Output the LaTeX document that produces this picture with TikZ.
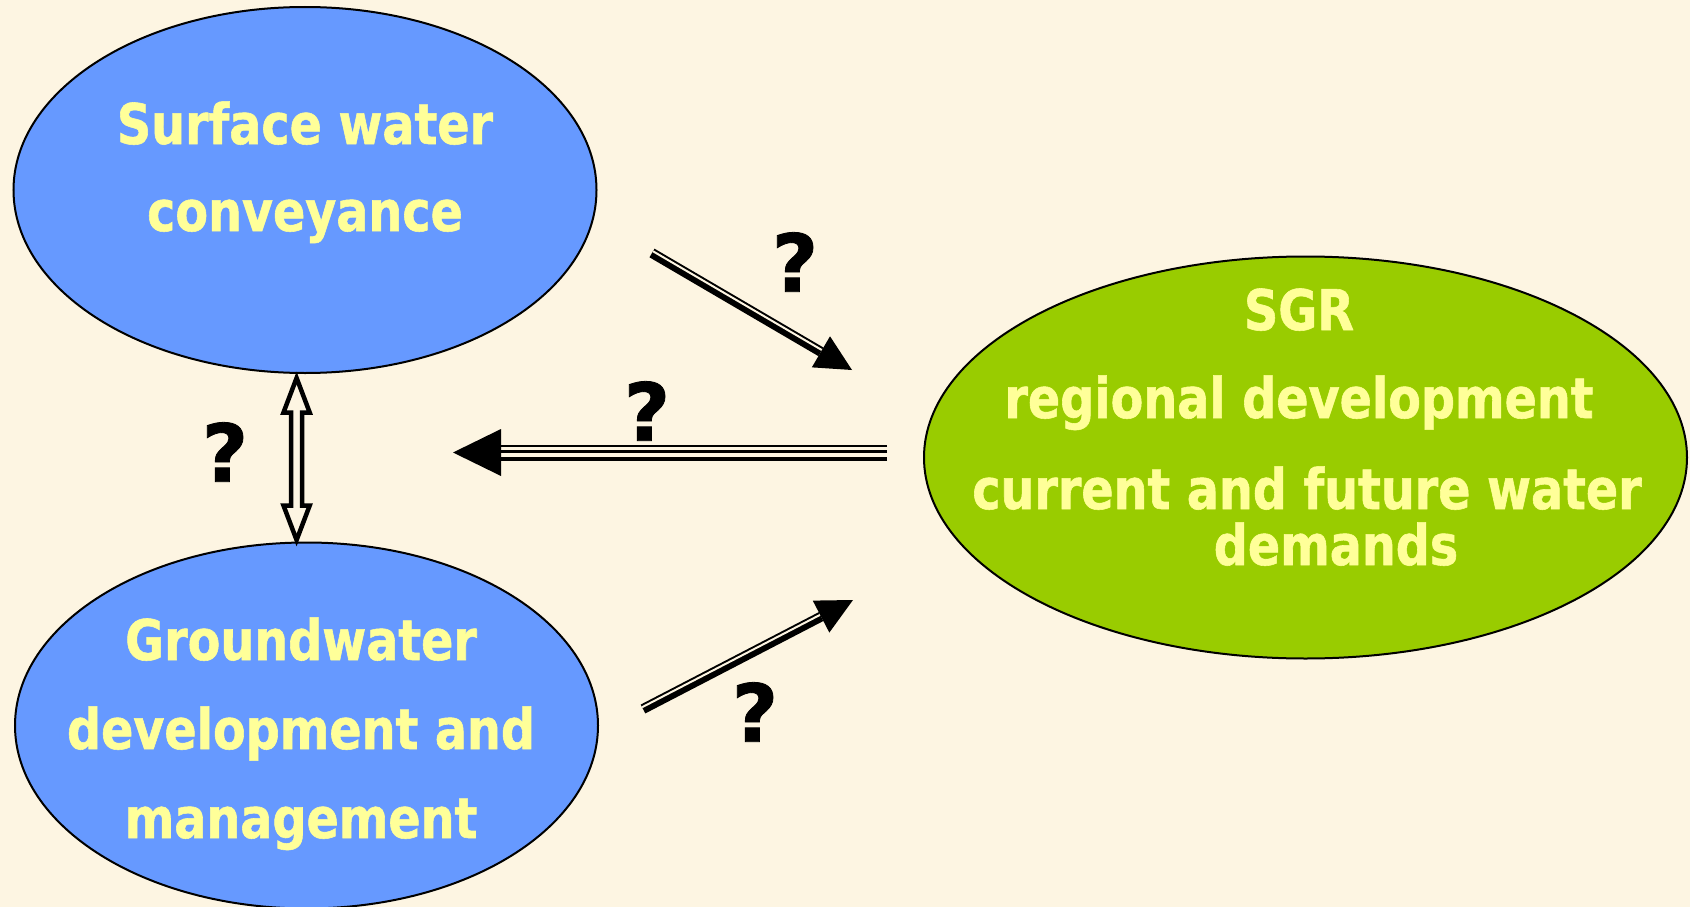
\documentclass[tikz,border=0pt]{standalone}
\usepackage{fontspec}
\usetikzlibrary{shapes.geometric,calc}
\newfontfamily\lblfont{DejaVu Sans}[FakeStretch=0.85,FakeBold=1]
\newfontfamily\qfont{DejaVu Sans}[FakeBold=1]
\definecolor{bgc}{HTML}{FDF5E2}
\definecolor{bluec}{HTML}{6699FF}
\definecolor{greenc}{HTML}{99CC00}
\definecolor{txtc}{HTML}{FFFF99}
\begin{document}
\begin{tikzpicture}[x=1pt,y=-1pt,
  blob/.style={ellipse, draw=black, line width=2pt, inner sep=0pt},
  lbl/.style={anchor=base, inner sep=0pt, text=txtc, font=\lblfont\bfseries\fontsize{56}{60}\selectfont},
  qm/.style={inner sep=0pt, text=black, font=\qfont\bfseries\fontsize{80}{84}\selectfont},
  gapline/.style={draw=bgc, line width=2pt},
  shaft/.style={draw=black, line width=10pt}]
\fill[bgc] (0,0) rectangle (1690,907);
\useasboundingbox (0,0) rectangle (1690,907);

% ellipses
\node[blob, fill=bluec, minimum width=583pt, minimum height=366pt] (sw) at (305,190) {};
\node[blob, fill=bluec, minimum width=583pt, minimum height=366pt] (gw) at (306.5,725.5) {};
\node[blob, fill=greenc, minimum width=763pt, minimum height=402pt] (sgr) at (1305.5,457.5) {};

% labels
\node[lbl] (sw1) at (305,144) {Surface water};
\node[lbl] (sw2) at (305,231) {conveyance};
\node[lbl] (gw1) at (301,660) {Groundwater};
\node[lbl] (gw2) at (301,749) {development and};
\node[lbl] (gw3) at (301,838) {management};
\node[lbl] (s1) at (1299,330) {SGR};
\node[lbl] (s2) at (1299,418) {regional development};
\node[lbl] (s3) at (1307,509) {current and future water};
\node[lbl] (s4) at (1336,565) {demands};

% question marks
\node[qm] (q1) at (795,262) {?};
\node[qm] (q2) at (647,411) {?};
\node[qm] (q3) at (225,452) {?};
\node[qm] (q4) at (755,712) {?};

% arrow 1: surface water -> SGR
\coordinate (a1t) at (652,253);
\coordinate (a1p) at (852,370);
\coordinate (a1b) at ($(a1p)!36pt!(a1t)$);
\draw[shaft] (a1t) -- (a1b);
\draw[gapline] ($(a1t)!2pt!90:(a1p)$) -- ($(a1b)!2pt!90:(a1p)$);
\fill ($(a1b)!18pt!90:(a1p)$) -- (a1p) -- ($(a1b)!18pt!-90:(a1p)$) -- cycle;

% arrow 4: groundwater -> SGR
\coordinate (a4t) at (643,709);
\coordinate (a4p) at (853,600);
\coordinate (a4b) at ($(a4p)!36pt!(a4t)$);
\draw[shaft] (a4t) -- (a4b);
\draw[gapline] ($(a4t)!2pt!90:(a4p)$) -- ($(a4b)!2pt!90:(a4p)$);
\fill ($(a4b)!18pt!90:(a4p)$) -- (a4p) -- ($(a4b)!18pt!-90:(a4p)$) -- cycle;

% arrow 2: SGR -> left (triple line)
\coordinate (a2t) at (887,452.5);
\coordinate (a2p) at (453,452.5);
\coordinate (a2b) at (501,452.5);
\draw[line width=2.3pt] ([yshift=6.3pt]a2t) -- ([yshift=6.3pt]a2b);
\draw[line width=3.3pt] ([yshift=0.8pt]a2t) -- ([yshift=0.8pt]a2b);
\draw[line width=3.4pt] ([yshift=-6.5pt]a2t) -- ([yshift=-6.5pt]a2b);
\fill (a2p) -- ([yshift=23.5pt]a2b) -- ([yshift=-23.5pt]a2b) -- cycle;

% arrow 3: hollow double arrow between surface water and groundwater
\coordinate (v1) at (296.6,378);
\coordinate (v2) at (296.6,540);
\draw[fill=bgc, line width=4.5pt, line join=miter]
  (v1) -- ++(13.1,34.5) -- ++(-7.7,0) -- ++(0,93) -- ++(7.7,0) -- (v2)
  -- ++(-13.1,-34.5) -- ++(7.7,0) -- ++(0,-93) -- ++(-7.7,0) -- cycle;
\end{tikzpicture}
\end{document}
